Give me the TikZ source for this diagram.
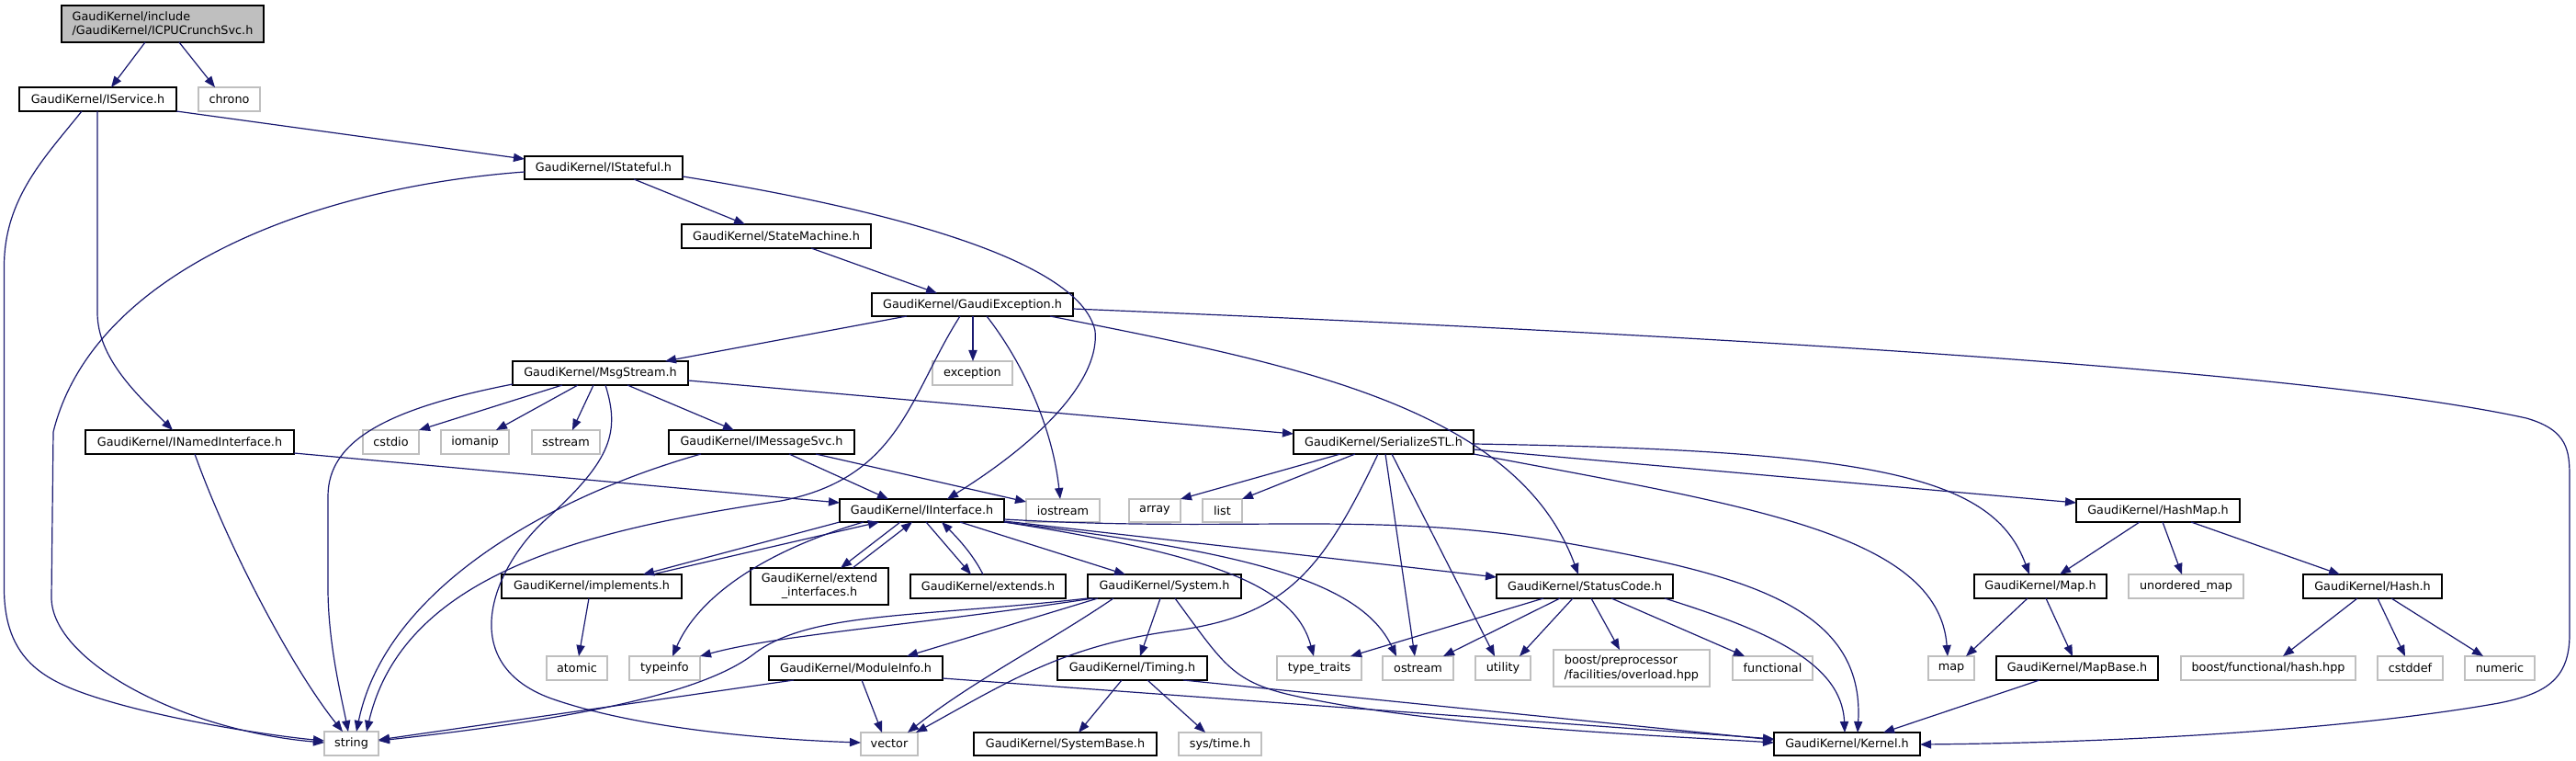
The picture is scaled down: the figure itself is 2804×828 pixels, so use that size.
\documentclass[tikz,border=0pt]{standalone}
\usepackage{fontspec}
\setmainfont{DejaVu Sans}
\usetikzlibrary{arrows.meta}
\definecolor{edgec}{HTML}{191970}
\definecolor{grayb}{HTML}{BFBFBF}
\newcommand\bx[7]{%
  \pgfmathsetmacro\bxw{(#5-#3)*0.5}%
  \pgfmathsetmacro\bxh{(#6-#4)*0.5}%
  \node[#2, minimum width=\bxw pt, minimum height=\bxh pt] (#1) at ({(#3+#5)/2},{(#4+#6)/2}) {#7};%
}
\tikzset{
  hdr/.style={draw=black, line width=0.85pt, fill=white, inner sep=0pt, outer sep=0pt, text=black},
  ext/.style={draw=grayb, line width=0.85pt, fill=white, inner sep=0pt, outer sep=0pt, text=black},
  rootbox/.style={draw=black, fill=grayb, line width=0.85pt, inner sep=0pt, outer sep=0pt, align=left},
  dep/.style={draw=edgec, line width=0.6pt, -{Triangle[length=6pt,width=4.6pt]}}
}
\begin{document}
\begin{tikzpicture}[x=0.5pt, y=-0.5pt, font=\fontsize{6.4}{7.6}\selectfont]
\useasboundingbox (0,0) rectangle (2804,828);
% nodes
\bx{icpu}{rootbox}{67}{6}{287}{46}{GaudiKernel/include\\/GaudiKernel/ICPUCrunchSvc.h}
\bx{iservice}{hdr}{21}{95}{192}{121}{GaudiKernel/IService.h}
\bx{chrono}{ext}{216}{95}{283}{121}{chrono}
\bx{istateful}{hdr}{571}{170}{743}{195}{GaudiKernel/IStateful.h}
\bx{statemachine}{hdr}{742}{244}{948}{270}{GaudiKernel/StateMachine.h}
\bx{gexc}{hdr}{949}{319}{1168}{344}{GaudiKernel/GaudiException.h}
\bx{msgstream}{hdr}{558}{393}{749}{419}{GaudiKernel/MsgStream.h}
\bx{exception}{ext}{1015}{393}{1102}{419}{exception}
\bx{inamed}{hdr}{93}{468}{320}{494}{GaudiKernel/INamedInterface.h}
\bx{cstdio}{ext}{395}{468}{456}{494}{cstdio}
\bx{iomanip}{ext}{480}{468}{554}{494}{iomanip}
\bx{sstream}{ext}{579}{468}{653}{494}{sstream}
\bx{imsgsvc}{hdr}{728}{468}{930}{494}{GaudiKernel/IMessageSvc.h}
\bx{serial}{hdr}{1408}{468}{1604}{494}{GaudiKernel/SerializeSTL.h}
\bx{iinterface}{hdr}{914}{543}{1093}{568}{GaudiKernel/IInterface.h}
\bx{iostream}{ext}{1117}{543}{1197}{568}{iostream}
\bx{array}{ext}{1229}{543}{1285}{568}{array}
\bx{list}{ext}{1309}{543}{1352}{568}{list}
\bx{hashmap}{hdr}{2260}{543}{2438}{568}{GaudiKernel/HashMap.h}
\bx{implements}{hdr}{546}{625}{742}{651}{GaudiKernel/implements.h}
\bx{extendif}{hdr,align=center}{817}{618}{967}{658}{GaudiKernel/extend\\\_interfaces.h}
\bx{extends}{hdr}{991}{625}{1160}{651}{GaudiKernel/extends.h}
\bx{system}{hdr}{1184}{625}{1351}{651}{GaudiKernel/System.h}
\bx{statuscode}{hdr}{1629}{625}{1821}{651}{GaudiKernel/StatusCode.h}
\bx{mapH}{hdr}{2149}{625}{2293}{651}{GaudiKernel/Map.h}
\bx{unordered}{ext}{2317}{625}{2442}{651}{unordered\_map}
\bx{hash}{hdr}{2507}{625}{2658}{651}{GaudiKernel/Hash.h}
\bx{atomic}{ext}{595}{714}{661}{740}{atomic}
\bx{typeinfo}{ext}{685}{714}{762}{740}{typeinfo}
\bx{moduleinfo}{hdr}{837}{714}{1026}{740}{GaudiKernel/ModuleInfo.h}
\bx{timing}{hdr}{1151}{714}{1314}{740}{GaudiKernel/Timing.h}
\bx{typetraits}{ext}{1390}{714}{1482}{740}{type\_traits}
\bx{ostream}{ext}{1505}{714}{1582}{740}{ostream}
\bx{utility}{ext}{1606}{714}{1666}{740}{utility}
\bx{boostpp}{ext,align=left}{1691}{707}{1861}{747}{boost/preprocessor\\/facilities/overload.hpp}
\bx{functional}{ext}{1886}{714}{1973}{740}{functional}
\bx{mapstd}{ext}{2099}{714}{2149}{740}{map}
\bx{mapbase}{hdr}{2173}{714}{2349}{740}{GaudiKernel/MapBase.h}
\bx{boosthash}{ext}{2374}{714}{2564}{740}{boost/functional/hash.hpp}
\bx{cstddef}{ext}{2588}{714}{2659}{740}{cstddef}
\bx{numeric}{ext}{2683}{714}{2759}{740}{numeric}
\bx{string}{ext}{353}{796}{412}{822}{string}
\bx{vector}{ext}{937}{797}{999}{822}{vector}
\bx{systembase}{hdr}{1060}{797}{1259}{822}{GaudiKernel/SystemBase.h}
\bx{systime}{ext}{1283}{797}{1373}{822}{sys/time.h}
\bx{kernel}{hdr}{1931}{797}{2090}{822}{GaudiKernel/Kernel.h}
% edges
\draw[dep] (icpu.south -| 158,0) -- (iservice.north -| 121,0);
\draw[dep] (icpu.south -| 195,0) -- (chrono.north -| 234,0);
\draw[dep] (iservice.south east) -- (istateful.west |- 0,173);
\draw[dep] (iservice.south -| 106,0) -- (106,340) .. controls (106,390) and (150,430) .. (inamed.north -| 188,0);
\draw[dep] (iservice.south -| 89,0) .. controls (50,170) and (4.5,215) .. (4.5,290) -- (4.5,640) .. controls (4.5,710) and (40,735) .. (85,752) .. controls (160,780) and (290,800) .. (string.west |- 0,806);
\draw[dep] (istateful.south -| 690,0) -- (statemachine.north -| 811,0);
\draw[dep] (istateful.east |- 0,192) .. controls (950,225) and (1175,280) .. (1192,360) .. controls (1197,410) and (1140,475) .. (iinterface.north -| 1031,0);
\draw[dep] (istateful.west |- 0,187) .. controls (330,205) and (100,300) .. (58,470) -- (56,650) .. controls (56,720) and (200,795) .. (string.west |- 0,808);
\draw[dep] (statemachine.south -| 883,0) -- (gexc.north -| 1020,0);
\draw[dep] (gexc.south -| 987,0) -- (msgstream.north -| 724,0);
\draw[dep] (gexc.south -| 1059,0) -- (exception.north -| 1059,0);
\draw[dep] (gexc.south -| 1074,0) .. controls (1110,390) and (1145,460) .. (iostream.north -| 1154,0);
\draw[dep] (gexc.south -| 1045,0) .. controls (990,430) and (980,520) .. (850,545) .. controls (650,575) and (440,620) .. (string.north -| 399,0);
\draw[dep] (gexc.south -| 1143,0) .. controls (1400,395) and (1650,440) .. (statuscode.north -| 1718,0);
\draw[dep] (gexc.east |- 0,336) .. controls (1800,362) and (2500,400) .. (2750,455) .. controls (2795,468) and (2797,490) .. (2797,520) -- (2797,690) .. controls (2797,740) and (2770,755) .. (2720,765) .. controls (2550,795) and (2300,808) .. (kernel.east |- 0,810);
\draw[dep] (msgstream.south -| 612,0) -- (cstdio.north east);
\draw[dep] (msgstream.south -| 629,0) -- (iomanip.north -| 540,0);
\draw[dep] (msgstream.south -| 646,0) -- (sstream.north -| 623,0);
\draw[dep] (msgstream.south -| 683,0) -- (imsgsvc.north -| 799,0);
\draw[dep] (msgstream.east |- 0,414) -- (serial.west |- 0,472);
\draw[dep] (msgstream.west |- 0,418) .. controls (420,445) and (357,480) .. (357,540) -- (357,640) .. controls (357,700) and (372,760) .. (string.north -| 379,0);
\draw[dep] (msgstream.south -| 659,0) .. controls (675,470) and (665,500) .. (600,560) .. controls (540,610) and (490,720) .. (600,760) .. controls (700,795) and (850,805) .. (vector.west |- 0,808);
\draw[dep] (imsgsvc.south -| 859,0) -- (iinterface.north -| 967,0);
\draw[dep] (imsgsvc.south -| 888,0) -- (iostream.west |- 0,546);
\draw[dep] (imsgsvc.south -| 763,0) .. controls (600,540) and (420,640) .. (string.north -| 388,0);
\draw[dep] (inamed.east |- 0,493) -- (iinterface.west |- 0,547);
\draw[dep] (inamed.south -| 212,0) .. controls (250,600) and (320,730) .. (string.north -| 373,0);
\draw[dep] (iinterface.south west) -- (implements.north -| 700,0);
\draw[dep] (implements.north -| 710,0) -- (iinterface.south -| 957,0);
\draw[dep] (iinterface.south -| 980,0) -- (extendif.north -| 915,0);
\draw[dep] (extendif.north -| 928,0) -- (iinterface.south -| 993,0);
\draw[dep] (iinterface.south -| 1008,0) -- (extends.north -| 1057,0);
\draw[dep] (extends.north -| 1070,0) .. controls (1060,605) and (1045,588) .. (iinterface.south -| 1025,0);
\draw[dep] (iinterface.south -| 1045,0) -- (system.north -| 1225,0);
\draw[dep] (iinterface.south -| 940,0) .. controls (830,600) and (760,650) .. (typeinfo.north -| 732,0);
\draw[dep] (iinterface.east |- 0,567) -- (statuscode.west |- 0,628);
\draw[dep] (iinterface.south east) .. controls (1330,605) and (1410,640) .. (typetraits.north -| 1430,0);
\draw[dep] (iinterface.south east) .. controls (1350,600) and (1480,630) .. (ostream.north -| 1520,0);
\draw[dep] (iinterface.east |- 0,565) .. controls (1350,580) and (1500,555) .. (1700,590) .. controls (1900,625) and (2030,660) .. (kernel.north -| 2022,0);
\draw[dep] (system.south -| 1190,0) .. controls (1000,680) and (850,690) .. (typeinfo.north east);
\draw[dep] (system.south -| 1195,0) -- (moduleinfo.north -| 987,0);
\draw[dep] (system.south -| 1212,0) .. controls (1140,700) and (1060,740) .. (vector.north -| 988,0);
\draw[dep] (system.south west) .. controls (1000,672) and (880,665) .. (820,712) .. controls (770,750) and (650,780) .. (string.east |- 0,806);
\draw[dep] (system.south -| 1263,0) -- (timing.north -| 1241,0);
\draw[dep] (system.south -| 1279,0) .. controls (1330,720) and (1340,740) .. (1400,755) .. controls (1550,790) and (1800,800) .. (kernel.west |- 0,808);
\draw[dep] (moduleinfo.south -| 864,0) -- (string.east |- 0,805);
\draw[dep] (moduleinfo.south -| 938,0) -- (vector.north -| 960,0);
\draw[dep] (moduleinfo.east |- 0,738) -- (kernel.west |- 0,804);
\draw[dep] (timing.south -| 1221,0) -- (systembase.north -| 1174,0);
\draw[dep] (timing.south -| 1249,0) -- (systime.north -| 1312,0);
\draw[dep] (timing.south -| 1288,0) -- (kernel.west |- 0,805);
\draw[dep] (serial.south -| 1459,0) -- (array.north east);
\draw[dep] (serial.south -| 1475,0) -- (list.north east);
\draw[dep] (serial.south -| 1500,0) .. controls (1440,620) and (1400,670) .. (1280,686) .. controls (1160,702) and (1100,740) .. (vector.north -| 997,0);
\draw[dep] (serial.south -| 1508,0) -- (ostream.north -| 1540,0);
\draw[dep] (serial.south -| 1515,0) -- (utility.north -| 1627,0);
\draw[dep] (serial.east |- 0,483) .. controls (2050,490) and (2170,520) .. (mapH.north -| 2209,0);
\draw[dep] (serial.east |- 0,489) -- (hashmap.west |- 0,547);
\draw[dep] (serial.south east) .. controls (1900,550) and (2110,580) .. (mapstd.north -| 2120,0);
\draw[dep] (statuscode.south -| 1680,0) -- (typetraits.north -| 1470,0);
\draw[dep] (statuscode.south -| 1698,0) -- (ostream.north -| 1571,0);
\draw[dep] (statuscode.south -| 1712,0) -- (utility.north -| 1654,0);
\draw[dep] (statuscode.south -| 1732,0) -- (boostpp.north -| 1763,0);
\draw[dep] (statuscode.south -| 1754,0) -- (functional.north -| 1899,0);
\draw[dep] (statuscode.south -| 1812,0) .. controls (1920,685) and (2005,720) .. (kernel.north -| 2008,0);
\draw[dep] (hashmap.south -| 2329,0) -- (mapH.north -| 2242,0);
\draw[dep] (hashmap.south -| 2354,0) -- (unordered.north -| 2375,0);
\draw[dep] (hashmap.south -| 2385,0) -- (hash.north -| 2547,0);
\draw[dep] (mapH.south -| 2207,0) -- (mapstd.north -| 2140,0);
\draw[dep] (mapH.south -| 2227,0) -- (mapbase.north -| 2256,0);
\draw[dep] (mapbase.south -| 2220,0) -- (kernel.north -| 2050,0);
\draw[dep] (hash.south -| 2566,0) -- (boosthash.north -| 2485,0);
\draw[dep] (hash.south -| 2588,0) -- (cstddef.north -| 2618,0);
\draw[dep] (hash.south -| 2603,0) -- (numeric.north -| 2703,0);
\draw[dep] (implements.south -| 641,0) -- (atomic.north -| 630,0);
\end{tikzpicture}
\end{document}
